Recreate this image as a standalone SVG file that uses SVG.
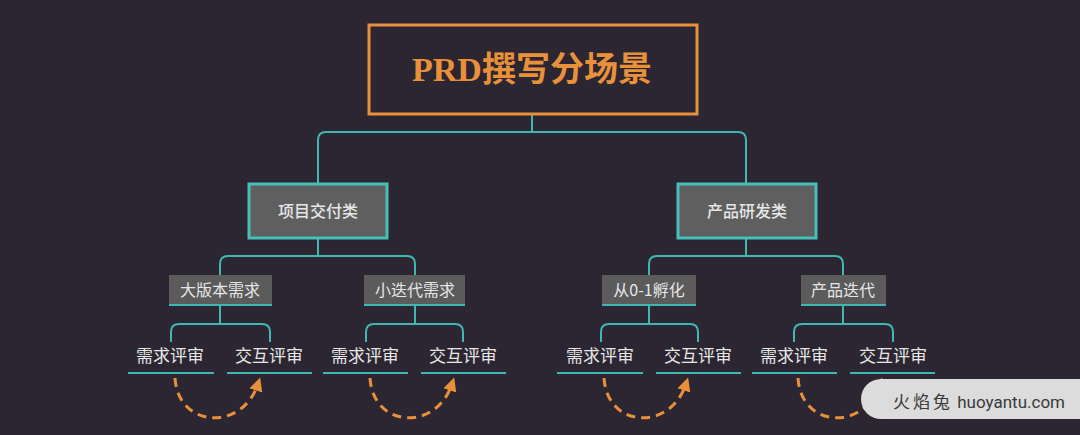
<svg xmlns="http://www.w3.org/2000/svg" width="1080" height="435" viewBox="0 0 1080 435">
<defs>
<style>
.conn{fill:none;stroke:#3fb8b1;stroke-width:2}
.l1{fill:#5f5f5f;stroke:#45c0b9;stroke-width:3}
.l2{fill:#5b5b5b}
.l2b{stroke:#3fb8b1;stroke-width:2}
.txt{font-family:"Noto Sans CJK SC","Noto Sans",sans-serif;fill:#e6e6e6;text-anchor:middle}
.t1{font-size:16px;font-weight:500}
.t2{font-size:16px}
.leaf{font-size:17px}
.ul{stroke:#3fb8b1;stroke-width:2}
.arc{fill:none;stroke:#e8913a;stroke-width:3;stroke-dasharray:9 6}
</style>
<marker id="ah" viewBox="0 0 10 10" refX="5" refY="5" markerWidth="4.5" markerHeight="4.5" orient="auto" markerUnits="strokeWidth">
<path d="M0,0 L10,5 L0,10 z" fill="#e8913a"/>
</marker>
</defs>
<rect width="1080" height="435" fill="#2c2632"/>
<g id="connectors">
<path class="conn" d="M532,115 V132"/>
<path class="conn" d="M318,184 V140 Q318,132 326,132 H738 Q746,132 746,140 V184"/>
<path class="conn" d="M318,238 V256"/>
<path class="conn" d="M220,275 V264 Q220,256 228,256 H407 Q415,256 415,264 V275"/>
<path class="conn" d="M746,239 V256"/>
<path class="conn" d="M649,275 V264 Q649,256 657,256 H835 Q843,256 843,264 V275"/>
<path class="conn" d="M220,305 V324"/>
<path class="conn" d="M171,342 V332 Q171,324 179,324 H262 Q270,324 270,332 V342"/>
<path class="conn" d="M415,305 V324"/>
<path class="conn" d="M366,342 V332 Q366,324 374,324 H455 Q463,324 463,332 V342"/>
<path class="conn" d="M649,305 V324"/>
<path class="conn" d="M601,342 V332 Q601,324 609,324 H690 Q698,324 698,332 V342"/>
<path class="conn" d="M843,305 V324"/>
<path class="conn" d="M794,342 V332 Q794,324 802,324 H885 Q893,324 893,332 V342"/>
<path class="arc" d="M175,378 C178,428 242,432 258,384" marker-end="url(#ah)"/>
<path class="arc" d="M370,378 C373,428 436,432 452,384" marker-end="url(#ah)"/>
<path class="arc" d="M604,378 C607,428 670,432 686,384" marker-end="url(#ah)"/>
<path class="arc" d="M798,378 C801,428 864,432 880,384" marker-end="url(#ah)"/>
</g>
<g id="title">
<rect x="369" y="25" width="328" height="89" fill="none" stroke="#e8913a" stroke-width="3"/>
<text x="532" y="81" text-anchor="middle" font-family="'Liberation Serif','Noto Sans CJK SC',serif" font-size="34" font-weight="bold" fill="#e8913a">PRD<tspan font-family="'Noto Sans CJK SC',sans-serif">撰写分场景</tspan></text>
</g>
<g id="n-xmjf">
<rect class="l1" x="249" y="184" width="138" height="54"/>
<text class="txt t1" x="318" y="217">项目交付类</text>
</g>
<g id="n-cpyf">
<rect class="l1" x="678" y="184" width="138" height="54"/>
<text class="txt t1" x="747" y="217">产品研发类</text>
</g>
<g id="n-dbb">
<rect class="l2" x="169" y="275" width="103" height="30"/>
<line class="l2b" x1="169" y1="305" x2="272" y2="305"/>
<text class="txt t2" x="220" y="296">大版本需求</text>
</g>
<g id="n-xdd">
<rect class="l2" x="364" y="275" width="101" height="30"/>
<line class="l2b" x1="364" y1="305" x2="465" y2="305"/>
<text class="txt t2" x="415" y="296">小迭代需求</text>
</g>
<g id="n-fh">
<rect class="l2" x="602" y="275" width="94" height="30"/>
<line class="l2b" x1="602" y1="305" x2="696" y2="305"/>
<text class="txt t2" x="649" y="296">从0-1孵化</text>
</g>
<g id="n-cpdd">
<rect class="l2" x="801" y="275" width="85" height="30"/>
<line class="l2b" x1="801" y1="305" x2="886" y2="305"/>
<text class="txt t2" x="843" y="296">产品迭代</text>
</g>
<g id="leaf-1a"><text class="txt leaf" x="170" y="362">需求评审</text><line class="ul" x1="128" y1="373" x2="214" y2="373"/></g>
<g id="leaf-1b"><text class="txt leaf" x="269" y="362">交互评审</text><line class="ul" x1="227" y1="373" x2="312" y2="373"/></g>
<g id="leaf-2a"><text class="txt leaf" x="365" y="362">需求评审</text><line class="ul" x1="323" y1="373" x2="408" y2="373"/></g>
<g id="leaf-2b"><text class="txt leaf" x="463" y="362">交互评审</text><line class="ul" x1="421" y1="373" x2="506" y2="373"/></g>
<g id="leaf-3a"><text class="txt leaf" x="600" y="362">需求评审</text><line class="ul" x1="557" y1="373" x2="643" y2="373"/></g>
<g id="leaf-3b"><text class="txt leaf" x="698" y="362">交互评审</text><line class="ul" x1="656" y1="373" x2="741" y2="373"/></g>
<g id="leaf-4a"><text class="txt leaf" x="794" y="362">需求评审</text><line class="ul" x1="752" y1="373" x2="837" y2="373"/></g>
<g id="leaf-4b"><text class="txt leaf" x="893" y="362">交互评审</text><line class="ul" x1="850" y1="373" x2="935" y2="373"/></g>
<g id="watermark">
<path d="M881,379 H1080 V419 H881 A20,20 0 0 1 881,379 z" fill="#dcdcdc"/>
<text x="893" y="408" font-family="Roboto,'Noto Sans CJK SC',sans-serif" font-size="17" fill="#3a3a3a"><tspan letter-spacing="3">火焰兔</tspan> huoyantu.com</text>
</g>
</svg>
